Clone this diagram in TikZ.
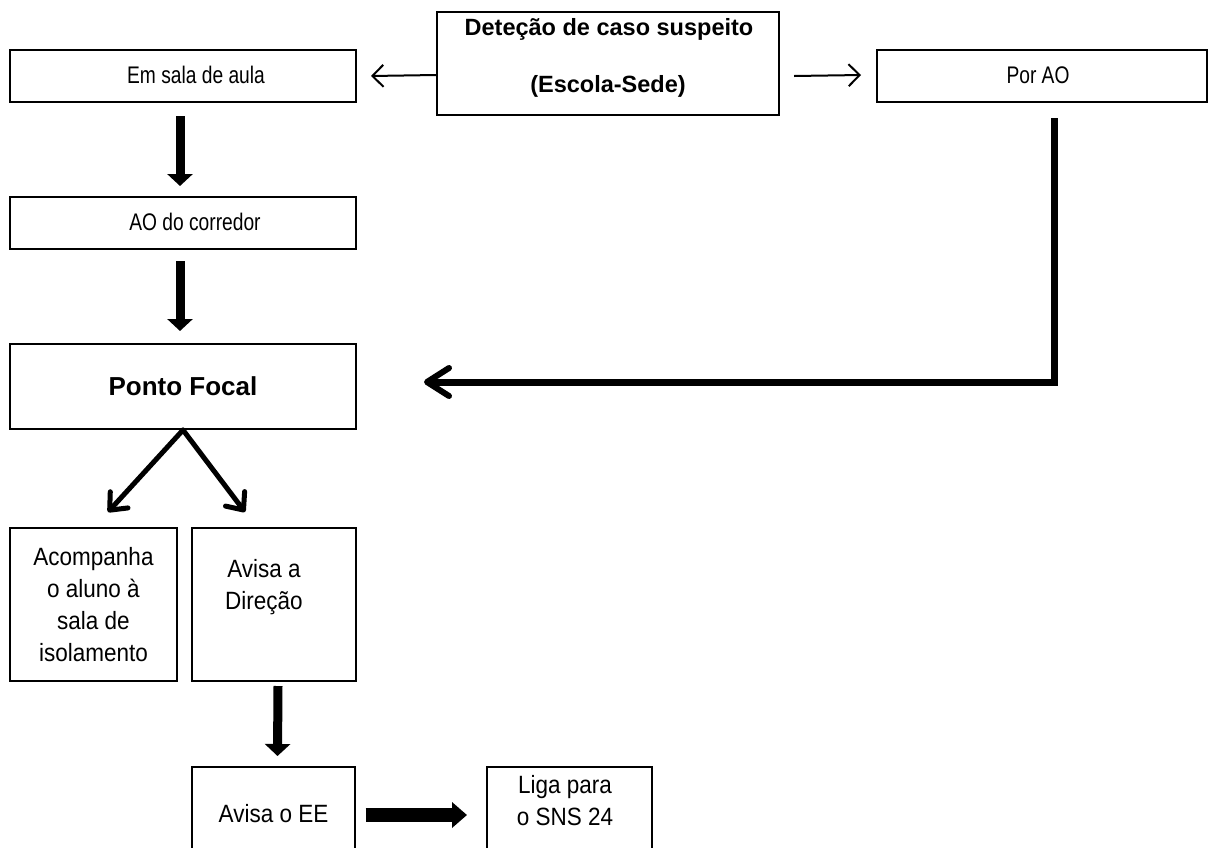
\documentclass[tikz,border=0pt]{standalone}
\usepackage{fontspec}
\setmainfont{Liberation Sans}[FakeStretch=0.9]
\newfontfamily\narrowfont{Liberation Sans}[FakeStretch=0.8]
\newfontfamily\widebold{Liberation Sans}[BoldFont={Liberation Sans Bold}]
\usetikzlibrary{arrows.meta}
\tikzset{
  box/.style={draw=black, line width=2pt, rectangle, inner sep=0pt, fill=white},
  toptext/.style={font=\narrowfont\fontsize{24}{28}\selectfont},
  lowtext/.style={font=\fontsize{25}{32}\selectfont, align=center},
  thinarrow/.style={line width=2pt, -{Straight Barb[length=11pt,width=22pt,line width=2pt]}},
  blockarrow/.style={line width=9pt, -{Triangle[length=12pt,width=25pt]}},
  blockarrowh/.style={line width=14pt, -{Triangle[length=15pt,width=25pt]}},
  diagarrow/.style={line width=5pt, line cap=round, -{Straight Barb[length=14pt,width=24pt,line width=5pt,round]}},
  elbowarrow/.style={line width=7pt, -{Straight Barb[length=22pt,width=28pt,line width=6pt,round]}}
}
\begin{document}
\begin{tikzpicture}[x=1pt,y=-1pt]
\useasboundingbox (0,0) rectangle (1209,847);
% boxes
\node[box, minimum width=346pt, minimum height=52pt] (sala) at (183,76) {};
\node[toptext] (salatext) at (196,75) {Em sala de aula};
\node[box, minimum width=342pt, minimum height=103pt] (det) at (608,63.5) {};
\node[font=\widebold\bfseries\fontsize{23.5}{26}\selectfont] (det1) at (609,29) {Deteção de caso suspeito};
\node[font=\widebold\bfseries\fontsize{23.5}{26}\selectfont] (det2) at (608,86) {(Escola-Sede)};
\node[box, minimum width=330pt, minimum height=52pt] (porao) at (1042,76) {};
\node[toptext] (poraotext) at (1038,75) {Por AO};
\node[box, minimum width=346pt, minimum height=52pt] (ao) at (183,223) {};
\node[toptext] (aotext) at (195,222) {AO do corredor};
\node[box, minimum width=346pt, minimum height=85pt, font=\widebold\bfseries\fontsize{26}{30}\selectfont] (pf) at (183,386.5) {Ponto Focal};
\node[box, minimum width=167pt, minimum height=153pt, lowtext] (acomp) at (93.5,604.5) {Acompanha\\o aluno à\\sala de\\isolamento};
\node[box, minimum width=164pt, minimum height=153pt] (dir) at (274,604.5) {};
\node[lowtext] (dirtext) at (264,587) {Avisa a\\Direção};
\node[box, minimum width=163pt, minimum height=93pt, lowtext] (ee) at (273.5,813.5) {Avisa o EE};
\node[box, minimum width=165pt, minimum height=93pt] (liga) at (569.5,813.5) {};
\node[lowtext] (ligatext) at (565,801) {Liga para\\o SNS 24};
% connectors
\draw[thinarrow] ([yshift=-11.5pt]det.west) -- ([xshift=14pt]sala.east);
\draw[thinarrow] ([xshift=14pt,yshift=-12.5pt]det.east) -- ([xshift=-15pt,yshift=1pt]porao.west);
\draw[blockarrow] ([xshift=-3pt,yshift=-13pt]sala.south) -- ([xshift=-3pt,yshift=10pt]ao.north);
\draw[blockarrow] ([xshift=-3pt,yshift=-11pt]ao.south) -- ([xshift=-3pt,yshift=12pt]pf.north);
\draw[elbowarrow] ([xshift=12pt,yshift=-15pt]porao.south) |- ([xshift=67pt,yshift=4.5pt]pf.east);
\draw[diagarrow] (pf.south) -- ([xshift=14.5pt,yshift=15pt]acomp.north);
\draw[diagarrow] (pf.south) -- ([xshift=-29pt,yshift=15pt]dir.north);
\draw[blockarrow] ([xshift=4pt,yshift=-4pt]dir.south) -- ([xshift=4pt,yshift=10pt]ee.north);
\draw[blockarrowh] ([xshift=9.5pt,yshift=-1.5pt]ee.east) -- ([xshift=-19pt,yshift=-1.5pt]liga.west);
\end{tikzpicture}
\end{document}
